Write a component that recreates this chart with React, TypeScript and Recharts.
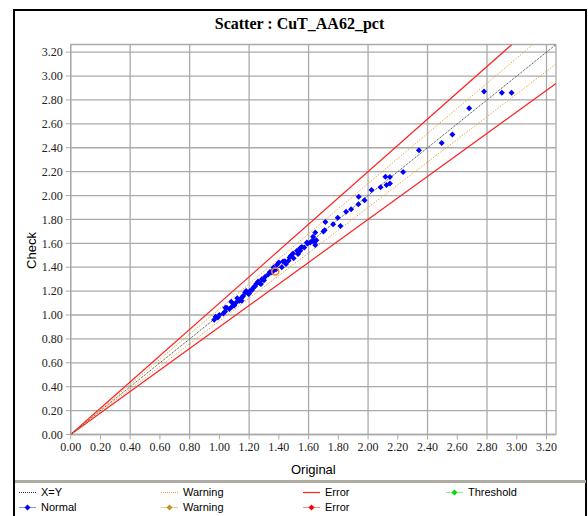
import { CartesianGrid, Scatter, ScatterChart, XAxis, YAxis } from "recharts";

// axis ticks (both axes share the same scale)
const ticks = [0, 0.2, 0.4, 0.6, 0.8, 1.0, 1.2, 1.4, 1.6, 1.8, 2.0, 2.2, 2.4, 2.6, 2.8, 3.0, 3.2];
const axisMax = 3.264;

// tolerance bands around X=Y
const warnPct = 0.05;
const errPct = 0.1;

// sample pairs: original assay vs check assay
const originalValues = [
  2.965, 2.9, 2.78, 2.68, 2.567, 2.495, 2.342, 2.236, 2.117, 2.147, 2.124, 2.147, 2.084, 2.023, 1.937,
  1.976, 1.935, 1.886, 1.852, 1.796, 1.814, 1.765, 1.713, 1.708, 1.7, 1.645, 1.63, 1.652, 1.639, 1.623,
  1.589, 1.555, 1.544, 1.611, 1.593, 1.571, 1.544, 1.529, 1.522, 1.495, 1.499, 1.481, 1.472, 1.465, 1.448,
  1.428, 1.387, 1.364, 1.36, 1.353, 1.33, 1.308, 1.286, 1.274, 1.247, 1.229, 1.207, 1.196, 1.173, 1.151,
  1.135, 1.113, 1.094, 1.084, 1.067, 1.038, 1.027, 0.99, 0.965, 0.975, 1.0, 1.05, 1.12, 1.16, 1.18, 1.22,
  1.26, 1.3, 1.34, 1.4, 1.42, 1.38, 1.44, 1.1, 1.08, 1.04, 1.15, 1.2, 1.24, 1.28, 1.645,
];
const checkValues = [
  2.86, 2.86, 2.87, 2.73, 2.51, 2.44, 2.38, 2.197, 2.158, 2.155, 2.089, 2.1, 2.07, 2.047, 1.99,
  1.96, 1.927, 1.885, 1.865, 1.815, 1.746, 1.76, 1.779, 1.71, 1.7, 1.69, 1.654, 1.626, 1.615, 1.62,
  1.607, 1.57, 1.56, 1.607, 1.598, 1.565, 1.537, 1.51, 1.537, 1.515, 1.476, 1.495, 1.481, 1.454, 1.426,
  1.448, 1.42, 1.398, 1.37, 1.356, 1.342, 1.32, 1.3, 1.264, 1.259, 1.23, 1.203, 1.175, 1.189, 1.147,
  1.12, 1.105, 1.092, 1.07, 1.05, 1.03, 1.013, 0.98, 0.96, 0.985, 1.0, 1.06, 1.14, 1.16, 1.2, 1.21,
  1.28, 1.29, 1.36, 1.44, 1.4, 1.38, 1.45, 1.08, 1.11, 1.06, 1.12, 1.18, 1.24, 1.26, 1.587,
];

// highlighted sample
const flaggedOriginal = [1.376];
const flaggedCheck = [1.364];

const legendRow1 = [
  { label: "X=Y", kind: "dotted", color: "#333333" },
  { label: "Warning", kind: "dotted", color: "#e0a040" },
  { label: "Error", kind: "solid", color: "#ff2020" },
  { label: "Threshold", kind: "marker", color: "#00dd00" },
];
const legendRow2 = [
  { label: "Normal", kind: "marker", color: "#0000ff" },
  { label: "Warning", kind: "marker", color: "#c89020" },
  { label: "Error", kind: "marker", color: "#ff0000" },
];
const legendCols = [19, 161, 303, 446];

const points = originalValues.map((x, i) => ({ x, y: checkValues[i] }));
const flagged = flaggedOriginal.map((x, i) => ({ x, y: flaggedCheck[i] }));

// straight line y = k*x, clipped to the plot box
const ratioLine = (k: number) =>
  k >= 1
    ? [{ x: 0, y: 0 }, { x: axisMax / k, y: axisMax }]
    : [{ x: 0, y: 0 }, { x: axisMax, y: axisMax * k }];

const noShape = () => <g />;

const Diamond = (props: any) => {
  const { cx, cy } = props;
  const r = 3;
  return <polygon points={`${cx},${cy - r} ${cx + r},${cy} ${cx},${cy + r} ${cx - r},${cy}`} fill="#0000ff" />;
};

const Ring = (props: any) => {
  const { cx, cy } = props;
  return <circle cx={cx} cy={cy} r={3.5} fill="none" stroke="#f08a20" strokeWidth={1.5} />;
};

const serif = "'Liberation Serif', 'Times New Roman', serif";
const sans = "'Liberation Sans', Arial, sans-serif";
const gridColor = "#aaaaaa";

function LegendIcon({ kind, color }: { kind: string; color: string }) {
  return (
    <svg width={17} height={9} style={{ display: "block" }}>
      {kind === "dotted" && <line x1={0} y1={4.5} x2={17} y2={4.5} stroke={color} strokeDasharray="1 1" />}
      {kind === "solid" && <line x1={0} y1={4.5} x2={17} y2={4.5} stroke={color} strokeWidth={1.2} />}
      {kind === "marker" && (
        <>
          <line x1={0} y1={4.5} x2={17} y2={4.5} stroke={color} strokeOpacity={0.45} />
          <polygon points="8.5,1.5 11.5,4.5 8.5,7.5 5.5,4.5" fill={color} />
        </>
      )}
    </svg>
  );
}

export default function App() {
  return (
    <div style={{ position: "absolute", left: 0, top: 0, width: 588, height: 516, background: "#fff", overflow: "hidden" }}>
      <div
        style={{
          position: "absolute",
          left: 13,
          top: 9,
          width: 574,
          height: 520,
          border: "2px solid #000",
          boxSizing: "border-box",
        }}
      />
      <div
        style={{
          position: "absolute",
          left: 13,
          top: 15,
          width: 573,
          textAlign: "center",
          fontFamily: serif,
          fontWeight: "bold",
          fontSize: 16,
          color: "#000",
        }}
      >
        Scatter : CuT_AA62_pct
      </div>
      <div style={{ position: "absolute", left: 0, top: 0 }}>
        <ScatterChart width={588} height={480} margin={{ top: 44.5, right: 32, left: 0, bottom: 0 }}>
          <CartesianGrid stroke={gridColor} strokeWidth={1.3} />
          <XAxis
            type="number"
            dataKey="x"
            domain={[0, axisMax]}
            ticks={ticks}
            allowDataOverflow
            tickFormatter={(v: number) => v.toFixed(2)}
            tick={{ fill: "#222", fontSize: 12, fontFamily: serif }}
            tickSize={5}
            tickMargin={3}
            tickLine={{ stroke: gridColor }}
            axisLine={{ stroke: gridColor, strokeWidth: 1.3 }}
            height={45.5}
            label={{ value: "Original", position: "insideBottom", offset: 6, fill: "#000", fontSize: 13, fontFamily: sans }}
          />
          <YAxis
            type="number"
            dataKey="y"
            domain={[0, axisMax]}
            ticks={ticks}
            allowDataOverflow
            tickFormatter={(v: number) => v.toFixed(2)}
            tick={{ fill: "#222", fontSize: 12, fontFamily: serif }}
            tickSize={5}
            tickMargin={3}
            tickLine={{ stroke: gridColor }}
            axisLine={{ stroke: gridColor, strokeWidth: 1.3 }}
            width={70.7}
            label={(p: any) => {
              const vb = p.viewBox;
              const cx = 31;
              const cy = vb.y + vb.height / 2 + 11;
              return (
                <text x={cx} y={cy} transform={`rotate(-90 ${cx} ${cy})`} textAnchor="middle" dominantBaseline="central" fontSize={13} fontFamily={sans} fill="#000">
                  Check
                </text>
              );
            }}
          />
          <XAxis xAxisId="top" orientation="top" type="number" domain={[0, 1]} height={0} tick={false} tickLine={false} axisLine={{ stroke: gridColor, strokeWidth: 1.3 }} />
          <YAxis yAxisId="right" orientation="right" type="number" domain={[0, 1]} width={0} tick={false} tickLine={false} axisLine={{ stroke: gridColor, strokeWidth: 1.3 }} />

          <Scatter data={ratioLine(1 + errPct)} line={{ stroke: "#ff2020", strokeWidth: 1.2 }} shape={noShape} isAnimationActive={false} legendType="none" />
          <Scatter data={ratioLine(1 - errPct)} line={{ stroke: "#ff2020", strokeWidth: 1.2 }} shape={noShape} isAnimationActive={false} legendType="none" />
          <Scatter data={ratioLine(1 + warnPct)} line={{ stroke: "#e8a848", strokeWidth: 1, strokeDasharray: "1.5 1.5" }} shape={noShape} isAnimationActive={false} legendType="none" />
          <Scatter data={ratioLine(1 - warnPct)} line={{ stroke: "#e8a848", strokeWidth: 1, strokeDasharray: "1.5 1.5" }} shape={noShape} isAnimationActive={false} legendType="none" />
          <Scatter data={ratioLine(1)} line={{ stroke: "#333", strokeWidth: 1, strokeDasharray: "1 1" }} shape={noShape} isAnimationActive={false} legendType="none" />

          <Scatter data={points} shape={Diamond} isAnimationActive={false} />
          <Scatter data={flagged} shape={Ring} isAnimationActive={false} />
        </ScatterChart>
      </div>

      {/* legend strip */}
      <div style={{ position: "absolute", left: 15, top: 480, width: 571, height: 3, background: "#aeaca2" }} />
      {[legendRow1, legendRow2].map((row, r) =>
        row.map((item, c) => (
          <div
            key={`${r}-${c}`}
            style={{
              position: "absolute",
              left: legendCols[c],
              top: 485 + r * 15,
              height: 14,
              display: "flex",
              alignItems: "center",
              gap: 5,
              fontFamily: sans,
              fontSize: 11,
              color: "#000",
            }}
          >
            <LegendIcon kind={item.kind} color={item.color} />
            <span>{item.label}</span>
          </div>
        ))
      )}
    </div>
  );
}
